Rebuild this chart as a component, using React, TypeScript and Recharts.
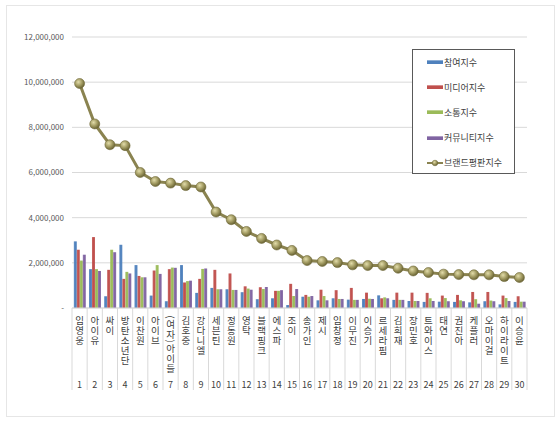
import {
  ComposedChart,
  Bar,
  Line,
  XAxis,
  YAxis,
  CartesianGrid,
  Legend,
} from "recharts"

const names = [
  "임영웅", "아이유", "싸이", "방탄소년단", "이찬원", "아이브", "(여자)아이들", "김호중", "강다니엘", "세븐틴",
  "정동원", "영탁", "블랙핑크", "에스파", "조이", "송가인", "제시", "임창정", "이무진", "이승기",
  "르세라핌", "김희재", "장민호", "트와이스", "태연", "권진아", "케플러", "오마이걸", "하이라이트", "이승윤",
]

const participation = [
  2950000, 1720000, 520000, 2800000, 1900000, 550000, 300000, 1900000, 670000, 890000,
  830000, 700000, 390000, 430000, 130000, 500000, 340000, 430000, 370000, 400000,
  560000, 360000, 310000, 270000, 280000, 270000, 250000, 300000, 160000, 270000,
]

const media = [
  2580000, 3140000, 1690000, 1290000, 1420000, 1660000, 1720000, 1130000, 1290000, 1690000,
  1530000, 960000, 920000, 760000, 1070000, 580000, 810000, 790000, 890000, 680000,
  430000, 680000, 680000, 670000, 550000, 580000, 710000, 710000, 550000, 520000,
]

const communication = [
  2100000, 1720000, 2580000, 1600000, 1360000, 1900000, 1790000, 1190000, 1730000, 830000,
  800000, 860000, 840000, 760000, 530000, 500000, 530000, 400000, 360000, 410000,
  470000, 360000, 310000, 430000, 440000, 340000, 390000, 330000, 440000, 280000,
]

const community = [
  2360000, 1640000, 2470000, 1530000, 1360000, 1510000, 1780000, 1210000, 1750000, 830000,
  800000, 810000, 930000, 790000, 840000, 530000, 340000, 400000, 360000, 400000,
  430000, 360000, 310000, 310000, 300000, 300000, 190000, 300000, 310000, 280000,
]

const brand = [
  9940000, 8150000, 7230000, 7190000, 6000000, 5600000, 5530000, 5420000, 5360000, 4250000,
  3910000, 3390000, 3080000, 2790000, 2550000, 2100000, 2060000, 2010000, 1910000, 1880000,
  1880000, 1760000, 1640000, 1570000, 1500000, 1480000, 1470000, 1470000, 1390000, 1350000,
]

const seriesNames = ["참여지수", "미디어지수", "소통지수", "커뮤니티지수", "브랜드평판지수"]

const yTicks = [0, 2000000, 4000000, 6000000, 8000000, 10000000, 12000000]

const data = names.map((name, i) => ({
  name,
  participation: participation[i],
  media: media[i],
  communication: communication[i],
  community: community[i],
  brand: brand[i],
}))

const WIDTH = 560
const HEIGHT = 424
const MARGIN = { top: 37, right: 33, bottom: 6, left: 8 }
const Y_AXIS_W = 64
const BAND = (WIDTH - MARGIN.left - MARGIN.right - Y_AXIS_W) / names.length
const FONT = "'Noto Sans CJK KR', 'Noto Sans', sans-serif"

const barColors = ["#4F81BD", "#C0504D", "#9BBB59", "#8064A2"]
const lineColor = "#8A8350"

function formatY(v: number) {
  return v === 0 ? "-" : v.toLocaleString("en-US")
}

// one <text> per character, stacked top to bottom; parentheses turned sideways
function NameTick({ x, y, payload, index }: any) {
  const label: string = payload.value
  let cursor = y + 7
  const chars = label.split("").map((ch, i) => {
    const paren = ch === "(" || ch === ")"
    const adv = paren ? 4 : 10
    const cy = cursor + adv / 2
    cursor += adv
    return (
      <text
        key={i}
        x={x}
        y={cy}
        textAnchor="middle"
        dominantBaseline="central"
        fontSize={9.5}
        fill="#404040"
        fontFamily={FONT}
        transform={paren ? `rotate(90 ${x} ${cy})` : undefined}
      >
        {ch}
      </text>
    )
  })
  return (
    <g>
      <line x1={x - BAND / 2} x2={x - BAND / 2} y1={y} y2={y + 82} stroke="#D9D9D9" />
      {index === names.length - 1 && (
        <line x1={x + BAND / 2} x2={x + BAND / 2} y1={y} y2={y + 82} stroke="#D9D9D9" />
      )}
      {chars}
      <text
        x={x}
        y={y + 76}
        textAnchor="middle"
        dominantBaseline="central"
        fontSize={9}
        fill="#404040"
        fontFamily={FONT}
      >
        {index + 1}
      </text>
    </g>
  )
}

function LegendBox({ payload }: any) {
  const items = [...(payload || [])].sort(
    (a: any, b: any) => seriesNames.indexOf(a.value) - seriesNames.indexOf(b.value)
  )
  return (
    <div
      style={{
        position: "relative",
        width: 103,
        height: 125,
        boxSizing: "border-box",
        border: "1px solid #595959",
        background: "#fff",
        fontFamily: FONT,
        fontSize: 9,
        color: "#404040",
      }}
    >
      {items.map((item: any, i: number) => (
        <div
          key={item.value}
          style={{
            position: "absolute",
            left: 14,
            top: 12 + i * 25.2 - 6,
            height: 12,
            display: "flex",
            alignItems: "center",
            whiteSpace: "nowrap",
          }}
        >
          {item.type === "line" ? (
            <svg width={16} height={8} style={{ display: "block" }}>
              <line x1={0} x2={16} y1={4} y2={4} stroke={lineColor} strokeWidth={2} />
              <circle cx={8} cy={4} r={2.8} fill="url(#dotGrad)" stroke="#6E6838" strokeWidth={0.5} />
            </svg>
          ) : (
            <div
              style={{
                width: 16,
                height: 4,
                background: item.color,
                borderTop: "1px solid rgba(255,255,255,0.35)",
                boxSizing: "border-box",
              }}
            />
          )}
          <span style={{ marginLeft: 1 }}>{item.value}</span>
        </div>
      ))}
    </div>
  )
}

export default function App() {
  return (
    <div style={{ position: "absolute", left: 0, top: 0, width: WIDTH, height: HEIGHT, background: "#fff" }}>
      <div
        style={{
          position: "absolute",
          left: 6,
          top: 5,
          width: 549,
          height: 412,
          border: "1px solid #E6E6E6",
          boxSizing: "border-box",
        }}
      />
      <ComposedChart
        width={WIDTH}
        height={HEIGHT}
        data={data}
        margin={MARGIN}
        barCategoryGap="12%"
        barGap={0}
      >
        <defs>
          <radialGradient id="dotGrad" cx="38%" cy="35%" r="65%">
            <stop offset="0%" stopColor="#E2DCAA" />
            <stop offset="55%" stopColor="#A39C63" />
            <stop offset="100%" stopColor="#6B6536" />
          </radialGradient>
          {barColors.map((c, i) => (
            <linearGradient key={c} id={`barGrad${i}`} x1="0" y1="0" x2="1" y2="0">
              <stop offset="0%" stopColor={c} stopOpacity={0.85} />
              <stop offset="50%" stopColor={c} />
              <stop offset="100%" stopColor={c} stopOpacity={0.9} />
            </linearGradient>
          ))}
        </defs>
        <CartesianGrid vertical={false} stroke="#D9D9D9" />
        <XAxis
          dataKey="name"
          interval={0}
          height={110}
          tickSize={0}
          tickMargin={0}
          tick={<NameTick />}
          axisLine={{ stroke: "#D9D9D9" }}
          tickLine={false}
        />
        <YAxis
          width={Y_AXIS_W}
          domain={[0, 12000000]}
          ticks={yTicks}
          tickFormatter={formatY}
          tick={{ fill: "#595959", fontSize: 8, fontFamily: FONT }}
          axisLine={false}
          tickLine={false}
        />
        <Legend
          content={<LegendBox />}
          layout="vertical"
          align="center"
          verticalAlign="middle"
          wrapperStyle={{ left: 412, top: 49, width: 103, height: 125 }}
        />
        <Bar dataKey="participation" name="참여지수" fill={barColors[0]} isAnimationActive={false} shape={(p: any) => <rect x={p.x} y={p.y} width={p.width} height={p.height} fill="url(#barGrad0)" />} />
        <Bar dataKey="media" name="미디어지수" fill={barColors[1]} isAnimationActive={false} shape={(p: any) => <rect x={p.x} y={p.y} width={p.width} height={p.height} fill="url(#barGrad1)" />} />
        <Bar dataKey="communication" name="소통지수" fill={barColors[2]} isAnimationActive={false} shape={(p: any) => <rect x={p.x} y={p.y} width={p.width} height={p.height} fill="url(#barGrad2)" />} />
        <Bar dataKey="community" name="커뮤니티지수" fill={barColors[3]} isAnimationActive={false} shape={(p: any) => <rect x={p.x} y={p.y} width={p.width} height={p.height} fill="url(#barGrad3)" />} />
        <Line
          type="linear"
          dataKey="brand"
          name="브랜드평판지수"
          stroke={lineColor}
          strokeWidth={3}
          dot={{ r: 5, fill: "url(#dotGrad)", stroke: "#6E6838", strokeWidth: 0.6 }}
          isAnimationActive={false}
        />
      </ComposedChart>
    </div>
  )
}
